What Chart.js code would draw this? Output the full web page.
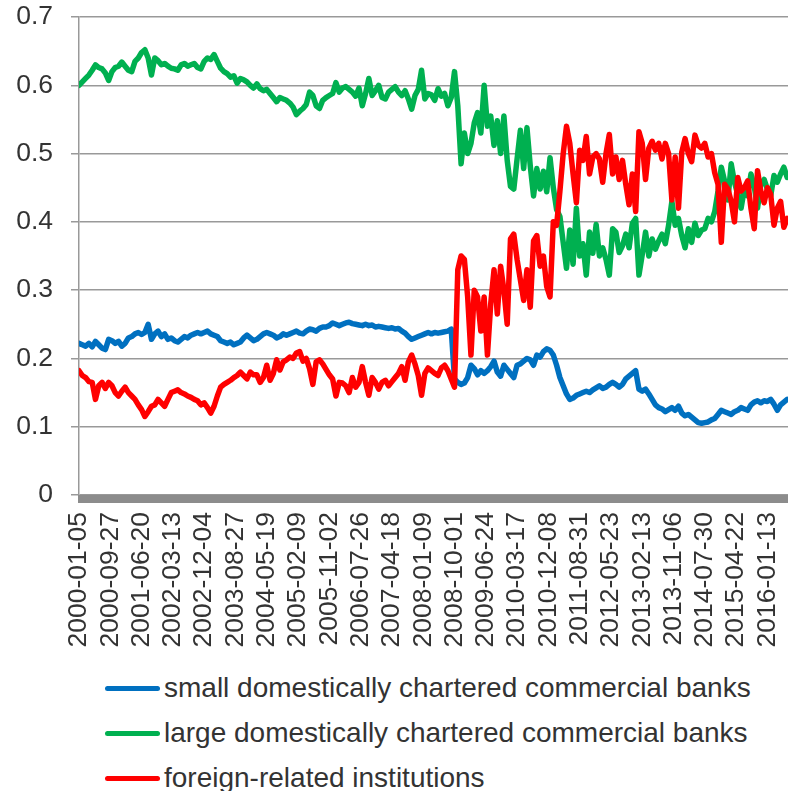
<!DOCTYPE html>
<html>
<head>
<meta charset="utf-8">
<title>Market share by bank group</title>
<script src="https://cdn.jsdelivr.net/npm/chart.js@4.4.1/dist/chart.umd.min.js"></script>
<style>
    body { margin: 0; background: #fff; }
    .wrap { position: relative; width: 792px; height: 791px; }
    .chart-box { position: absolute; left: 0; top: 0; width: 792px; height: 660px; }
    .legend-row {
        position: absolute; left: 105px; height: 30px;
        display: flex; align-items: center;
        font-family: "Liberation Sans", Arial, sans-serif; font-size: 28px; color: #333;
        white-space: nowrap;
    }
    .legend-row .swatch { width: 55px; height: 5px; border-radius: 3px; margin-right: 4px; }
</style>
</head>
<body>
<div class="wrap">
    <div class="chart-box"><canvas id="shareChart"></canvas></div>
    <div class="legend-row" style="top:673px"><span class="swatch" style="background:#0070C0"></span>small domestically chartered commercial banks</div>
    <div class="legend-row" style="top:718px"><span class="swatch" style="background:#00B050"></span>large domestically chartered commercial banks</div>
    <div class="legend-row" style="top:763px"><span class="swatch" style="background:#FF0000"></span>foreign-related institutions</div>
</div>
<script>
// Weekly series starting 2000-01-05, one value kept every 4 weeks
const weekStep = 4;
const labelStep = 38;

const tickLabels = [
    '2000-01-05', '2000-09-27', '2001-06-20', '2002-03-13', '2002-12-04', '2003-08-27',
    '2004-05-19', '2005-02-09', '2005-11-02', '2006-07-26', '2007-04-18', '2008-01-09',
    '2008-10-01', '2009-06-24', '2010-03-17', '2010-12-08', '2011-08-31', '2012-05-23',
    '2013-02-13', '2013-11-06', '2014-07-30', '2015-04-22', '2016-01-13'
];

const smallBanks = [
    0.222, 0.220, 0.218, 0.222, 0.217, 0.225, 0.220, 0.215, 0.213, 0.228,
    0.226, 0.222, 0.225, 0.218, 0.222, 0.230, 0.232, 0.236, 0.238, 0.235,
    0.238, 0.250, 0.228, 0.236, 0.240, 0.232, 0.236, 0.228, 0.230, 0.226,
    0.224, 0.228, 0.232, 0.230, 0.234, 0.236, 0.238, 0.236, 0.238, 0.240,
    0.236, 0.234, 0.232, 0.226, 0.224, 0.222, 0.224, 0.220, 0.222, 0.224,
    0.230, 0.234, 0.230, 0.226,
    0.228, 0.232, 0.236, 0.238, 0.236, 0.234, 0.230, 0.232, 0.236, 0.234,
    0.236, 0.238, 0.240, 0.237, 0.236, 0.240, 0.243, 0.242, 0.240, 0.244,
    0.246, 0.246, 0.248, 0.252, 0.250, 0.248, 0.250, 0.252, 0.253, 0.251,
    0.250, 0.249, 0.248, 0.250, 0.248, 0.249, 0.246, 0.247, 0.246, 0.245,
    0.244, 0.245, 0.243, 0.244, 0.240, 0.237, 0.232, 0.228, 0.230, 0.232,
    0.234, 0.236, 0.238, 0.236, 0.238,
    0.237, 0.238, 0.239, 0.240, 0.243, 0.170, 0.165, 0.162, 0.164, 0.172,
    0.190, 0.185, 0.176, 0.182, 0.178, 0.182, 0.188, 0.196, 0.180, 0.174,
    0.190, 0.184, 0.178, 0.172, 0.190, 0.192, 0.196, 0.200, 0.198, 0.190,
    0.205, 0.202, 0.210, 0.214, 0.212, 0.205, 0.190, 0.172, 0.160, 0.148,
    0.140, 0.142, 0.146, 0.148, 0.150, 0.152, 0.150, 0.154, 0.157, 0.160,
    0.156, 0.158, 0.162, 0.165,
    0.162, 0.158, 0.162, 0.170, 0.174, 0.178, 0.182, 0.155, 0.152, 0.155,
    0.148, 0.140, 0.132, 0.128, 0.126, 0.122, 0.125, 0.128, 0.124, 0.130,
    0.120, 0.116, 0.118, 0.114, 0.110, 0.106, 0.105, 0.106, 0.107, 0.110,
    0.112, 0.118, 0.124, 0.122, 0.120, 0.118, 0.122, 0.124, 0.128, 0.126,
    0.124, 0.132, 0.136, 0.138, 0.135, 0.138, 0.137, 0.140, 0.133, 0.124,
    0.132, 0.136, 0.140
];

const largeBanks = [
    0.600, 0.605, 0.610, 0.615, 0.622, 0.630, 0.626, 0.624, 0.618, 0.607,
    0.620, 0.626, 0.628, 0.634, 0.628, 0.622, 0.620, 0.635, 0.640, 0.648,
    0.652, 0.640, 0.615, 0.640, 0.636, 0.630, 0.632, 0.628, 0.625, 0.624,
    0.622, 0.630, 0.632, 0.628, 0.630, 0.632, 0.626, 0.624, 0.635, 0.640,
    0.638, 0.645, 0.635, 0.625, 0.620, 0.617, 0.612, 0.614, 0.603, 0.610,
    0.608, 0.605, 0.600, 0.596,
    0.602, 0.595, 0.592, 0.594, 0.588, 0.582, 0.576, 0.582, 0.580, 0.578,
    0.574, 0.568, 0.557, 0.562, 0.566, 0.572, 0.590, 0.585, 0.570, 0.566,
    0.578, 0.582, 0.585, 0.588, 0.604, 0.590, 0.596, 0.598, 0.594, 0.590,
    0.584, 0.596, 0.570, 0.588, 0.610, 0.585, 0.592, 0.600, 0.582, 0.580,
    0.590, 0.594, 0.598, 0.590, 0.585, 0.592, 0.580, 0.565, 0.585, 0.594,
    0.622, 0.580, 0.588, 0.586, 0.578,
    0.595, 0.584, 0.588, 0.570, 0.582, 0.620, 0.570, 0.485, 0.530, 0.500,
    0.515, 0.545, 0.560, 0.530, 0.600, 0.540, 0.555, 0.512, 0.548, 0.500,
    0.555, 0.490, 0.452, 0.448, 0.492, 0.534, 0.478, 0.538, 0.482, 0.438,
    0.478, 0.448, 0.474, 0.444, 0.494, 0.450, 0.418, 0.408, 0.370, 0.332,
    0.388, 0.338, 0.420, 0.350, 0.368, 0.322, 0.385, 0.354, 0.396, 0.350,
    0.362, 0.345, 0.322, 0.390,
    0.385, 0.355, 0.365, 0.382, 0.362, 0.398, 0.405, 0.322, 0.352, 0.385,
    0.350, 0.375, 0.360, 0.372, 0.382, 0.368, 0.395, 0.430, 0.395, 0.405,
    0.380, 0.362, 0.390, 0.370, 0.398, 0.380, 0.388, 0.390, 0.405, 0.400,
    0.415, 0.445, 0.480, 0.460, 0.432, 0.485, 0.458, 0.440, 0.420, 0.448,
    0.438, 0.470, 0.452, 0.420, 0.455, 0.462, 0.448, 0.438, 0.468, 0.458,
    0.470, 0.480, 0.465
];

const foreignInst = [
    0.182, 0.175, 0.172, 0.166, 0.165, 0.140, 0.160, 0.165, 0.156, 0.165,
    0.160, 0.150, 0.145, 0.152, 0.158, 0.150, 0.145, 0.140, 0.132, 0.125,
    0.115, 0.122, 0.130, 0.132, 0.140, 0.135, 0.130, 0.140, 0.150, 0.152,
    0.154, 0.150, 0.148, 0.145, 0.143, 0.140, 0.138, 0.132, 0.135, 0.128,
    0.120, 0.130, 0.145, 0.158, 0.162, 0.165, 0.168, 0.172, 0.175, 0.180,
    0.175, 0.170, 0.180, 0.176,
    0.176, 0.165, 0.172, 0.190, 0.168, 0.178, 0.198, 0.183, 0.195, 0.198,
    0.202, 0.200, 0.208, 0.210, 0.196, 0.200, 0.185, 0.162, 0.195, 0.198,
    0.192, 0.184, 0.176, 0.170, 0.145, 0.165, 0.164, 0.160, 0.150, 0.172,
    0.158, 0.165, 0.188, 0.165, 0.146, 0.172, 0.165, 0.155, 0.165, 0.168,
    0.160, 0.166, 0.172, 0.178, 0.188, 0.168, 0.195, 0.205, 0.192, 0.175,
    0.146, 0.178, 0.186, 0.182, 0.178,
    0.175, 0.186, 0.190, 0.182, 0.170, 0.158, 0.330, 0.350, 0.345, 0.290,
    0.205, 0.300, 0.290, 0.240, 0.290, 0.205, 0.280, 0.330, 0.265, 0.335,
    0.300, 0.250, 0.375, 0.382, 0.345, 0.315, 0.285, 0.330, 0.275, 0.372,
    0.380, 0.335, 0.350, 0.305, 0.290, 0.400, 0.395, 0.445, 0.500, 0.540,
    0.515, 0.470, 0.428, 0.505, 0.490, 0.525, 0.470, 0.495, 0.500, 0.492,
    0.458, 0.500, 0.528, 0.470,
    0.495, 0.462, 0.490, 0.455, 0.425, 0.470, 0.415, 0.532, 0.515, 0.462,
    0.508, 0.518, 0.505, 0.515, 0.492, 0.515, 0.500, 0.432, 0.495, 0.420,
    0.502, 0.522, 0.500, 0.488, 0.527, 0.512, 0.508, 0.515, 0.495, 0.500,
    0.472, 0.455, 0.370, 0.455, 0.448, 0.430, 0.400, 0.465, 0.445, 0.450,
    0.460, 0.420, 0.390, 0.475, 0.445, 0.428, 0.450, 0.440, 0.395, 0.420,
    0.430, 0.392, 0.405
];

document.addEventListener('DOMContentLoaded', function() {
    const toPoints = values => values.map((v, i) => ({ x: i * weekStep, y: v }));
    const lastWeek = (smallBanks.length - 1) * weekStep + 1;

    // Dense category tick marks under the plot render as a solid grey band
    const axisBand = {
        id: 'axisBand',
        afterDatasetsDraw(chart) {
            const { ctx, chartArea } = chart;
            ctx.save();
            ctx.fillStyle = '#8c8c8c';
            ctx.fillRect(chartArea.left - 1, chartArea.bottom, chartArea.right - chartArea.left + 1, 8);
            ctx.restore();
        }
    };

    Chart.defaults.font.family = '"Liberation Sans", Arial, sans-serif';
    Chart.defaults.font.size = 26.5;
    Chart.defaults.color = '#333';

    const lineStyle = {
        borderWidth: 5.5,
        pointRadius: 0,
        tension: 0,
        borderJoinStyle: 'round',
        borderCapStyle: 'round',
        fill: false
    };

    new Chart(document.getElementById('shareChart'), {
        type: 'line',
        data: {
            datasets: [
                { label: 'small domestically chartered commercial banks', data: toPoints(smallBanks), borderColor: '#0070C0', order: 2, ...lineStyle },
                { label: 'large domestically chartered commercial banks', data: toPoints(largeBanks), borderColor: '#00B050', order: 1, ...lineStyle },
                { label: 'foreign-related institutions', data: toPoints(foreignInst), borderColor: '#FF0000', order: 0, ...lineStyle }
            ]
        },
        options: {
            responsive: true,
            maintainAspectRatio: false,
            animation: false,
            layout: { padding: { top: 17, right: 4, left: 0, bottom: 0 } },
            plugins: {
                legend: { display: false },
                tooltip: { enabled: false }
            },
            scales: {
                x: {
                    type: 'linear',
                    min: 0,
                    max: lastWeek,
                    afterBuildTicks: scale => {
                        scale.ticks = tickLabels.map((_, k) => ({ value: k * labelStep }));
                    },
                    afterFit: scale => {
                        scale.height = 165;
                        scale.paddingLeft = 0;
                        scale.paddingRight = 0;
                    },
                    grid: { display: false, drawTicks: false },
                    border: { display: false },
                    ticks: {
                        autoSkip: false,
                        minRotation: 90,
                        maxRotation: 90,
                        padding: 17,
                        callback: value => tickLabels[Math.round(value / labelStep)]
                    }
                },
                y: {
                    min: 0,
                    max: 0.7,
                    afterFit: scale => {
                        scale.width = 79;
                        scale.paddingTop = 0;
                        scale.paddingBottom = 0;
                    },
                    grid: { color: '#999', lineWidth: 1.5, tickLength: 8 },
                    border: { color: '#999', width: 1.5 },
                    ticks: {
                        stepSize: 0.1,
                        padding: 18,
                        callback: value => value === 0 ? '0' : value.toFixed(1)
                    }
                }
            }
        },
        plugins: [axisBand]
    });
});
</script>
</body>
</html>
